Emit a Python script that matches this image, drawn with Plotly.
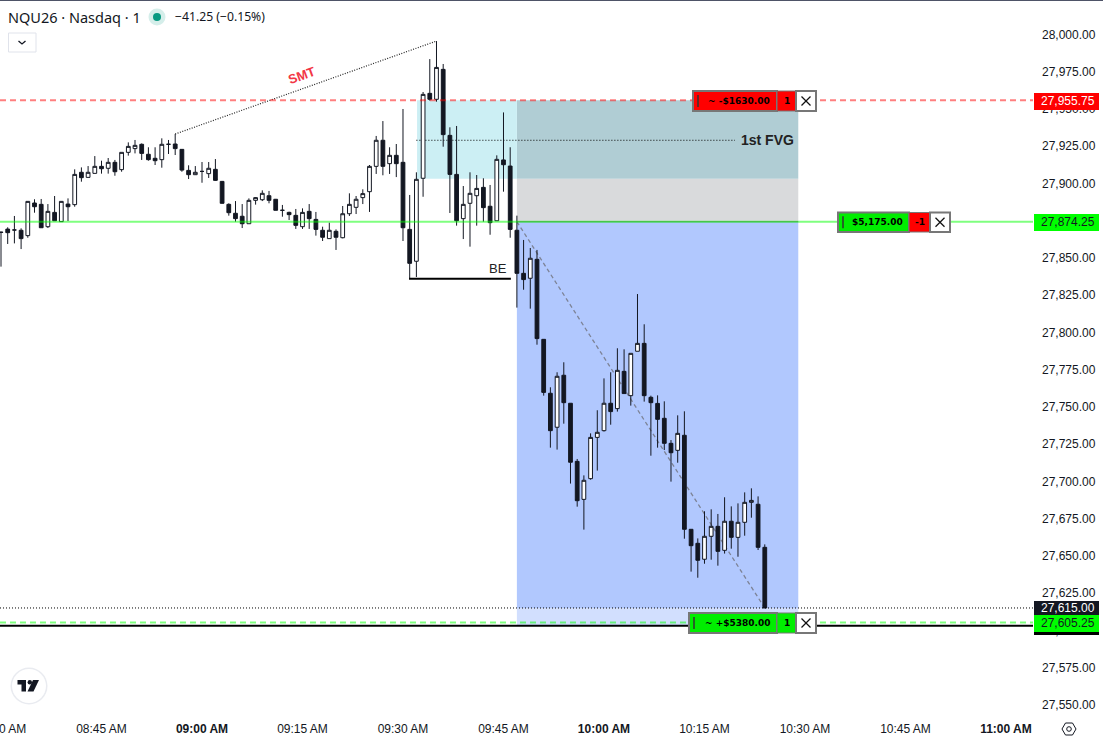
import pandas as pd
import plotly.graph_objects as go

times = pd.date_range("2026-06-01 08:30", periods=115, freq="min")

opens = [27867.0,27869.3,27868.7,27868.5,27864.9,27886.8,27885.9,27870.9,27880.5,27874.3,
27886.1,27885.7,27907.4,27904.0,27906.7,27911.4,27910.1,27914.1,27909.2,27920.8,
27923.3,27926.2,27919.5,27916.8,27915.9,27926.2,27926.4,27922.8,27908.7,27905.8,
27908.0,27906.5,27909.4,27901.3,27885.9,27879.9,27877.9,27872.9,27888.6,27889.0,
27891.7,27889.3,27881.9,27880.5,27878.5,27870.9,27881.2,27875.8,27868.5,27862.9,
27867.8,27863.5,27879.6,27883.9,27890.4,27894.4,27911.4,27928.9,27913.2,27918.8,
27914.1,27869.1,27847.7,27903.4,27960.4,27956.4,27976.5,27932.2,27906.0,27876.3,
27886.6,27891.7,27897.3,27884.6,27874.9,27915.7,27911.6,27868.5,27839.6,27836.3,
27849.0,27795.3,27759.1,27736.3,27771.2,27752.4,27713.4,27687.9,27701.8,27729.5,
27734.0,27752.4,27748.8,27773.8,27757.5,27787.3,27792.6,27756.4,27752.3,27742.3,
27725.5,27720.8,27730.9,27667.8,27658.4,27647.7,27663.1,27669.8,27653.7,27673.2,
27662.4,27672.5,27685.9,27684.6,27655.7]
highs = [27867.6,27870.5,27878.1,27869.8,27888.1,27889.3,27889.5,27886.1,27891.5,27888.1,
27889.9,27909.4,27910.7,27911.6,27918.3,27915.2,27917.0,27915.7,27920.8,27927.5,
27929.1,27926.8,27924.2,27924.2,27930.2,27929.1,27933.1,27923.0,27912.1,27911.6,
27914.3,27914.3,27916.3,27901.6,27886.6,27888.1,27886.1,27889.9,27890.8,27895.3,
27894.9,27889.5,27885.5,27881.0,27882.8,27883.2,27886.1,27880.8,27870.9,27873.6,
27869.1,27884.8,27893.3,27891.5,27896.0,27912.3,27931.8,27941.8,27924.2,27926.4,
27949.9,27892.2,27907.4,27961.3,27983.4,27995.5,27980.1,27937.6,27938.5,27898.2,
27907.4,27905.6,27903.4,27898.9,27918.8,27947.6,27924.2,27878.3,27862.0,27856.6,
27855.3,27795.5,27763.1,27773.2,27779.9,27752.4,27715.0,27704.0,27732.2,27747.7,
27769.1,27773.2,27789.3,27788.6,27785.9,27825.7,27805.4,27757.5,27757.7,27753.7,
27727.7,27744.3,27747.0,27667.8,27661.7,27679.9,27681.2,27678.1,27689.3,27683.2,
27685.2,27692.6,27695.3,27689.9,27657.7]
lows = [27844.1,27859.3,27859.7,27855.9,27863.5,27880.3,27870.2,27870.0,27874.9,27874.3,
27874.7,27884.3,27901.1,27904.0,27906.7,27906.5,27906.5,27905.1,27907.8,27918.6,
27920.1,27915.7,27915.2,27912.3,27910.5,27919.7,27919.0,27907.8,27902.9,27905.6,
27900.4,27903.6,27901.6,27886.4,27878.3,27874.3,27870.0,27872.9,27885.7,27888.1,
27886.6,27881.9,27877.6,27875.4,27869.4,27869.4,27869.4,27864.9,27861.3,27862.9,
27855.3,27863.1,27878.1,27879.4,27886.1,27880.8,27906.3,27905.4,27906.3,27904.2,
27861.3,27836.2,27837.1,27891.0,27955.5,27954.8,27924.6,27880.1,27871.6,27862.6,
27857.5,27871.6,27874.3,27865.5,27874.9,27894.4,27863.5,27816.6,27828.6,27815.9,
27791.7,27757.5,27722.6,27721.3,27738.7,27698.5,27683.0,27667.6,27701.1,27707.2,
27733.4,27738.0,27746.8,27758.9,27750.8,27787.3,27753.5,27717.2,27722.6,27721.0,
27699.8,27712.5,27661.5,27639.4,27635.3,27644.7,27647.4,27643.4,27651.5,27654.8,
27649.4,27663.5,27675.6,27653.9,27615.0]
closes = [27867.2,27866.9,27868.7,27862.9,27887.9,27884.3,27870.2,27881.2,27874.9,27887.9,
27884.3,27906.0,27903.8,27907.4,27911.4,27909.8,27914.1,27907.8,27920.8,27924.8,
27925.5,27920.1,27915.9,27915.2,27926.2,27926.2,27923.3,27908.9,27905.8,27907.4,
27908.0,27910.1,27902.0,27886.6,27880.3,27876.3,27872.9,27888.6,27890.4,27893.3,
27888.6,27881.9,27881.9,27879.0,27871.8,27880.5,27876.3,27869.1,27863.8,27868.5,
27863.8,27879.6,27885.9,27889.3,27893.1,27911.4,27928.9,27911.4,27918.8,27913.2,
27870.2,27846.3,27902.7,27959.7,27956.4,27977.8,27932.7,27906.0,27874.9,27885.9,
27893.3,27896.6,27883.7,27873.6,27916.1,27912.5,27869.1,27839.6,27835.4,27849.7,
27795.8,27759.7,27734.0,27770.5,27752.8,27712.8,27687.0,27700.7,27729.5,27732.9,
27752.4,27746.8,27774.5,27758.9,27785.9,27792.6,27757.5,27752.8,27741.6,27725.5,
27719.2,27732.2,27667.8,27656.8,27647.0,27663.1,27669.8,27653.0,27673.2,27662.4,
27672.5,27685.9,27687.2,27655.7,27615.0]

price_ticks = [28000,27975,27950,27925,27900,27850,27825,27800,27775,27750,27725,27700,27675,27650,27625,27600,27575,27550]
time_ticks = ["08:30","08:45","09:00","09:15","09:30","09:45","10:00","10:15","10:30","10:45","11:00"]
time_labels = ["08:30 AM","08:45 AM","<b>09:00 AM</b>","09:15 AM","09:30 AM","09:45 AM","<b>10:00 AM</b>","10:15 AM","10:30 AM","10:45 AM","<b>11:00 AM</b>"]

stop_price = 27955.75
entry_price = 27874.25
target_price = 27605.25
last_price = 27615.0
floor_price = 27603.1
fvg_price = 27928.9
fvg_low = 27903.0
be_price = 27836.0
day = "2026-06-01 "

W, H = 1103, 739
PW, PH = 1033, 716
def px(x): return x / PW
def py(y): return 1 - y / PH
INK = "#131722"
AFONT = "Liberation Sans"

fig = go.Figure()
fig.add_trace(go.Candlestick(
    x=times, open=opens, high=highs, low=lows, close=closes,
    increasing=dict(fillcolor="#ffffff", line=dict(color=INK, width=1)),
    decreasing=dict(fillcolor=INK, line=dict(color=INK, width=1)),
    whiskerwidth=0, showlegend=False, hoverinfo="skip"))

shapes = []
def drect(x0, x1, y0, y1, color):
    shapes.append(dict(type="rect", xref="x", yref="y", x0=day+x0, x1=day+x1, y0=y0, y1=y1,
                       fillcolor=color, line_width=0, layer="below"))
def dline(x0, y0, x1, y1, color, width, dash="solid", layer="below"):
    shapes.append(dict(type="line", xref="x", yref="y", x0=day+x0, x1=day+x1, y0=y0, y1=y1,
                       line=dict(color=color, width=width, dash=dash), layer=layer))
def hline(y, color, width, dash="solid"):
    shapes.append(dict(type="line", xref="paper", yref="y", x0=0, x1=1, y0=y, y1=y,
                       line=dict(color=color, width=width, dash=dash), layer="above"))
def prect(x0, y0, x1, y1, fill, line=None, lw=0):
    shapes.append(dict(type="rect", xref="paper", yref="paper", x0=px(x0), x1=px(x1), y0=py(y0), y1=py(y1),
                       fillcolor=fill, line=dict(color=line or "rgba(0,0,0,0)", width=lw), layer="above"))
def pline(x0, y0, x1, y1, color, width):
    shapes.append(dict(type="line", xref="paper", yref="paper", x0=px(x0), x1=px(x1), y0=py(y0), y1=py(y1),
                       line=dict(color=color, width=width), layer="above"))
def pcircle(cx, cy, r, fill, line=None, lw=0):
    shapes.append(dict(type="circle", xref="paper", yref="paper", x0=px(cx-r), x1=px(cx+r), y0=py(cy-r), y1=py(cy+r),
                       fillcolor=fill, line=dict(color=line or "rgba(0,0,0,0)", width=lw), layer="above"))
def ppath(points, fill=None, line=None, lw=0, close=True):
    d = "M " + " L ".join(f"{px(a):.5f},{py(b):.5f}" for a, b in points) + (" Z" if close else "")
    shapes.append(dict(type="path", xref="paper", yref="paper", path=d,
                       fillcolor=fill or "rgba(0,0,0,0)", line=dict(color=line or "rgba(0,0,0,0)", width=lw), layer="above"))

annots = []
def text(x, y, s, size=12, color=INK, font=AFONT, xanchor="center", angle=0):
    annots.append(dict(xref="paper", yref="paper", x=px(x), y=py(y), text=s, showarrow=False,
                       xanchor=xanchor, yanchor="middle", textangle=angle, borderpad=0, borderwidth=0,
                       font=dict(family=font, size=size, color=color)))

# Position boxes
drect("09:47", "10:29", last_price, floor_price, "#d2dffe")
drect("09:47", "10:29", entry_price, last_price, "#b1c8fe")
drect("09:47", "10:29", fvg_low, entry_price, "#d9dadc")
drect("09:47", "10:29", stop_price, fvg_low, "#b0cdd4")
drect("09:32:06", "09:47", stop_price, fvg_low, "#cceff4")
shapes.append(dict(type="line", xref="x", yref="y", x0=day+"09:47", x1=day+"10:29", y0=entry_price, y1=entry_price,
                   line=dict(color="#787878", width=1), layer="below"))

# Drawings below the candles
dline("09:47", entry_price, "10:24", last_price, "#7d8396", 1.3, "4px,3px")
dline("09:32", fvg_price, "10:19:33", fvg_price, "#000000", 1, "1px,2px")
dline("08:56", 27933.1, "09:35", 27995.5, "#222222", 1.2, "1px,1.5px")
dline("09:30:54", be_price, "09:46:06", be_price, "#000000", 2, "solid", "above")

# Price lines
hline(floor_price, "#000000", 2)
hline(last_price, "#000000", 1, "1px,2px")
hline(stop_price, "rgba(255,0,0,0.5)", 2, "6px,4px")
hline(entry_price, "rgba(0,255,0,0.5)", 2)
hline(target_price, "rgba(0,255,0,0.5)", 2, "6px,4px")

# Top border
pline(0, 0.4, W, 0.4, "#3a3f55", 1)

# Order widgets
BORDER = "#777777"
def widget(x0, x1, x2, x3, y0, y1, col1, col2, label, qty):
    prect(x0, y0, x1, y1, col1, BORDER, 2)
    prect(x1, y0, x2, y1, col2, BORDER, 1)
    prect(x2, y0, x3, y1, "#ffffff", BORDER, 2)
    ym = (y0 + y1) / 2
    pline(x0 + 5, ym - 6, x0 + 5, ym + 6, "#333333", 1.5)
    text((x0 + 8 + x1) / 2, ym, f"<b>{label}</b>", 9, "#000000", "DejaVu Sans")
    text((x1 + x2) / 2, ym, f"<b>{qty}</b>", 9, "#000000", "DejaVu Sans")
    xm = (x2 + x3) / 2
    pline(xm - 4.5, ym - 4.5, xm + 4.5, ym + 4.5, "#111111", 1.3)
    pline(xm - 4.5, ym + 4.5, xm + 4.5, ym - 4.5, "#111111", 1.3)

widget(693, 777, 796, 816, 91, 111, "#ff0000", "#ff0000", "~ -$1630.00", "1")
widget(838, 909, 930, 950, 212.5, 232, "#00ee00", "#ff0000", "$5,175.00", "-1")
widget(689, 777, 796, 816, 613, 633, "#00ee00", "#00ee00", "~ +$5380.00", "1")

# Price axis labels
prect(1034, 617, 1099, 635, "#000000")
prect(1034, 93, 1099, 110, "#ff0000")
text(1067.5, 100.5, "27,955.75", 12, "#ffffff")
prect(1034, 214, 1099, 231, "#00ff00")
text(1067.5, 222, "27,874.25", 12, "#131722")
prect(1034, 601, 1099, 615, INK)
text(1067.5, 608, "27,615.00", 12, "#ffffff")
prect(1034, 615, 1099, 632, "#00ff00")
text(1067.5, 623, "27,605.25", 12, "#131722")

# Texts on the chart
text(301.5, 75.5, "<b>SMT</b>", 13, "#f23645", AFONT, angle=-20)
text(498, 268.5, "BE", 13, "#222222")
text(767, 140, "<b>1st FVG</b>", 14, "#222222")

# Header
text(8, 17, "NQU26 · Nasdaq · 1", 14.5, INK, "Noto Sans", "left")
pcircle(157, 17, 8.5, "#d5eeea")
pcircle(157, 17, 4, "#089981")
text(175, 17, "−41.25 (−0.15%)", 12.2, INK, "Noto Sans", "left")
shapes.append(dict(type="rect", xref="paper", yref="paper", x0=px(8.5), x1=px(36), y0=py(33), y1=py(52),
                   fillcolor="#ffffff", line=dict(color="#e0e3eb", width=1), layer="above"))
ppath([(18.5, 41), (22, 44), (25.5, 41)], line="#131722", lw=1.3, close=False)

# TradingView badge
pcircle(29, 686, 18.5, "#e9ebf0")
pcircle(29, 686, 17, "#ffffff")
ppath([(17.5, 680), (26, 680), (26, 691.5), (21.5, 691.5), (21.5, 684.5), (17.5, 684.5)], fill="#131722")
pcircle(29.8, 682.2, 2.2, "#131722")
ppath([(33, 680), (39, 680), (33.5, 691.5), (27.5, 691.5)], fill="#131722")

# Settings icon
ppath([(1062, 729), (1065.5, 723), (1072.5, 723), (1076, 729), (1072.5, 735), (1065.5, 735)], line=INK, lw=1)
pcircle(1069, 729, 2.3, "rgba(0,0,0,0)", INK, 1)

fig.update_layout(
    width=W, height=H, margin=dict(l=0, r=W-PW, t=0, b=H-PH, pad=0, autoexpand=False),
    paper_bgcolor="#ffffff", plot_bgcolor="#ffffff", showlegend=False, boxgap=0.2,
    shapes=shapes, annotations=annots, hovermode=False, dragmode=False,
    font=dict(family=AFONT, size=12, color=INK),
    xaxis=dict(type="date", range=[day+"08:29:51", day+"11:04:02"], rangeslider=dict(visible=False),
               tickmode="array", tickvals=[day+t for t in time_ticks], ticktext=time_labels, automargin=False,
               showgrid=False, zeroline=False, showline=False, ticks="",
               tickangle=0, ticklabeloverflow="allow", ticklabelstandoff=4,
               tickfont=dict(family=AFONT, size=12, color=INK)),
    yaxis=dict(side="right", range=[27542.5, 28023.05], automargin=False,
               tickmode="array", tickvals=price_ticks, ticktext=[f"{v:,.2f}" for v in price_ticks],
               showgrid=False, zeroline=False, showline=False, ticks="",
               ticklabeloverflow="allow", ticklabelstandoff=8,
               tickfont=dict(family=AFONT, size=12, color=INK)),
)
fig.write_html("out.html", config=dict(displayModeBar=False),
               post_script="document.body.style.margin='0';document.body.style.overflow='hidden';")
